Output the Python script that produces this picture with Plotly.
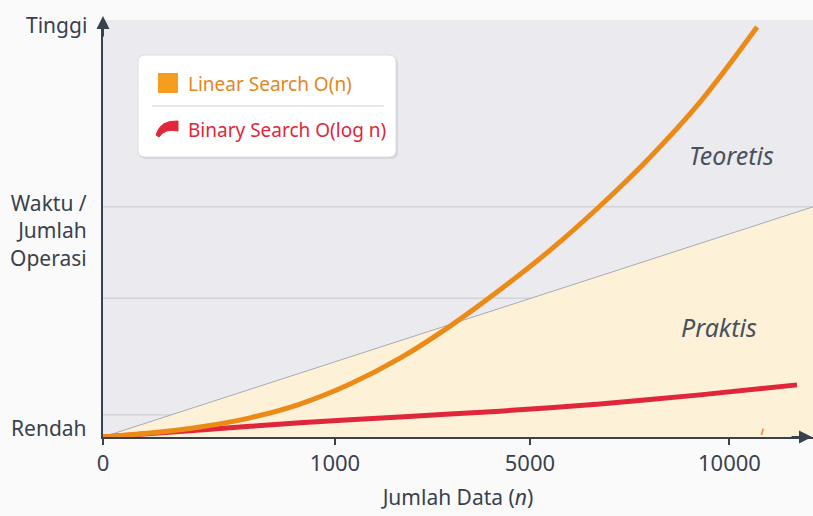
import plotly.graph_objects as go

# --- data (axis units: x = horizontal position, y = relative cost 0..100) ---
tick_pos = [0, 1.0, 1.84, 2.70]
tick_labels = ["0", "1000", "5000", "10000"]

linear_x = [0, 0.203, 0.418, 0.634, 0.849, 1.065, 1.280, 1.496, 1.711, 1.927, 2.142, 2.358, 2.573, 2.819]
linear_y = [0, 0.96, 2.4, 4.6, 7.9, 12.7, 18.9, 26.6, 35.3, 44.8, 55.4, 67.1, 80.3, 98.3]

binary_x = [0, 0.418, 0.849, 1.280, 1.711, 2.142, 2.573, 2.991]
binary_y = [0, 1.7, 3.4, 4.8, 6.2, 7.9, 10.1, 12.5]

practical_x = [0, 3.06, 3.06, 0]
practical_y = [0, 55.2, 0, 0]

grid_y = [5.3, 33.3, 55.2]

X_MAX = 3.06
FONT = "Noto Sans"
DARK = "#39414d"
ORANGE = "#ec8a17"
RED = "#e0263a"

fig = go.Figure()

fig.add_trace(go.Scatter(x=practical_x, y=practical_y, fill="toself", mode="lines",
                         fillcolor="#fdf1d8", line=dict(width=0), hoverinfo="skip",
                         showlegend=False))
fig.add_trace(go.Scatter(x=practical_x[:2], y=practical_y[:2], mode="lines",
                         line=dict(color="#a9acb4", width=1), hoverinfo="skip",
                         showlegend=False))
fig.add_trace(go.Scatter(x=binary_x, y=binary_y, mode="lines", line_shape="spline",
                         line=dict(color=RED, width=5, smoothing=0.6),
                         name="Binary Search O(log n)", showlegend=False))
fig.add_trace(go.Scatter(x=linear_x, y=linear_y, mode="lines", line_shape="spline",
                         line=dict(color=ORANGE, width=5, smoothing=1.0),
                         name="Linear Search O(n)", showlegend=False))


def px(xp):
    return (xp - 103) / 710


def py(yp):
    return (437 - yp) / 417


def rounded(x0, y0, x1, y1, r):
    pts = [
        f"M {px(x0 + r)} {py(y0)}",
        f"L {px(x1 - r)} {py(y0)}",
        f"Q {px(x1)} {py(y0)} {px(x1)} {py(y0 + r)}",
        f"L {px(x1)} {py(y1 - r)}",
        f"Q {px(x1)} {py(y1)} {px(x1 - r)} {py(y1)}",
        f"L {px(x0 + r)} {py(y1)}",
        f"Q {px(x0)} {py(y1)} {px(x0)} {py(y1 - r)}",
        f"L {px(x0)} {py(y0 + r)}",
        f"Q {px(x0)} {py(y0)} {px(x0 + r)} {py(y0)} Z",
    ]
    return " ".join(pts)


shapes = []
for gy in grid_y:
    shapes.append(dict(type="line", xref="x", yref="y", x0=0, x1=X_MAX, y0=gy, y1=gy,
                       line=dict(color="#c6c8cf", width=1), layer="below"))

shapes.append(dict(type="line", xref="x", yref="y", x0=2.838, x1=2.845, y0=0.5, y1=2.0,
                   line=dict(color="#f07a3a", width=1.5)))

shapes.append(dict(type="path", xref="paper", yref="paper", path=rounded(139, 57, 398, 159, 7),
                   line=dict(width=0), fillcolor="rgba(190,190,200,0.45)"))
shapes.append(dict(type="path", xref="paper", yref="paper", path=rounded(138, 55, 396, 157, 7),
                   line=dict(color="#dcdde2", width=1), fillcolor="white"))
shapes.append(dict(type="line", xref="paper", yref="paper",
                   x0=px(152), x1=px(384), y0=py(106), y1=py(106),
                   line=dict(color="#cfd0d6", width=1)))
shapes.append(dict(type="rect", xref="paper", yref="paper",
                   x0=px(158), x1=px(178), y0=py(93), y1=py(73),
                   line=dict(width=0), fillcolor="#f59d1f"))
arc = (f"M {px(156)} {py(135)} Q {px(160)} {py(120)} {px(178)} {py(121)} "
       f"L {px(178)} {py(131)} Q {px(165)} {py(128)} {px(159)} {py(137)} Z")
shapes.append(dict(type="path", xref="paper", yref="paper", path=arc,
                   line=dict(color=RED, width=1), fillcolor=RED))

LBL = dict(family=FONT, size=21, color=DARK)
annotations = [
    dict(xref="paper", yref="paper", x=px(186), y=py(84), text="Linear Search O(n)",
         showarrow=False, xanchor="left", yanchor="middle",
         font=dict(family=FONT, size=19, color="#e5861a")),
    dict(xref="paper", yref="paper", x=px(186), y=py(130), text="Binary Search O(log n)",
         showarrow=False, xanchor="left", yanchor="middle",
         font=dict(family=FONT, size=19, color=RED)),
    dict(xref="paper", yref="paper", x=px(731), y=py(155), text="<i>Teoretis</i>",
         showarrow=False, xanchor="center", yanchor="middle",
         font=dict(family=FONT, size=25, color="#4a505c")),
    dict(xref="paper", yref="paper", x=px(719), y=py(327), text="<i>Praktis</i>",
         showarrow=False, xanchor="center", yanchor="middle",
         font=dict(family=FONT, size=25, color="#4a505c")),
    dict(xref="paper", yref="paper", x=px(89), y=py(25), text="Tinggi",
         xanchor="right", yanchor="middle", showarrow=False, font=LBL),
    dict(xref="paper", yref="paper", x=px(89), y=py(230), text="Waktu /<br>Jumlah<br>Operasi",
         xanchor="right", yanchor="middle", align="right", showarrow=False, font=LBL),
    dict(xref="paper", yref="paper", x=px(89), y=py(428), text="Rendah",
         xanchor="right", yanchor="middle", showarrow=False, font=LBL),
    dict(xref="paper", yref="paper", x=0, y=py(16), ax=0, ay=22, text="",
         showarrow=True, arrowhead=2, arrowsize=1.3, arrowwidth=2, arrowcolor=DARK),
    dict(xref="paper", yref="paper", x=px(812), y=0, ax=-22, ay=0, text="",
         showarrow=True, arrowhead=2, arrowsize=1.3, arrowwidth=2, arrowcolor=DARK),
]

fig.update_layout(
    width=813, height=516,
    margin=dict(l=103, r=0, t=20, b=79),
    paper_bgcolor="#fafafb",
    plot_bgcolor="#eaeaef",
    shapes=shapes,
    annotations=annotations,
    xaxis=dict(range=[0, X_MAX], tickvals=tick_pos, ticktext=tick_labels,
               showgrid=False, zeroline=False, showline=True, linecolor=DARK, linewidth=2,
               ticks="outside", ticklen=6, tickwidth=1.5, tickcolor=DARK,
               tickfont=dict(family=FONT, size=22, color=DARK),
               title=dict(text="Jumlah Data (<i>n</i>)", standoff=14,
                          font=dict(family=FONT, size=21, color=DARK))),
    yaxis=dict(range=[0, 100], showticklabels=False, showgrid=False, zeroline=False,
               showline=True, linecolor=DARK, linewidth=2, ticks=""),
    showlegend=False,
)

fig.write_html("out.html", post_script="document.body.style.margin='0';",
               config={"displayModeBar": False})
